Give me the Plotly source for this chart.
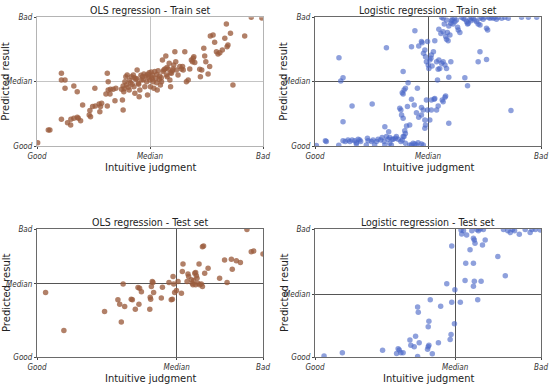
import plotly.graph_objects as go

# ---------------- data (0 = Good, 100 = Bad) ----------------
ols_train_x = [0.3, 5, 5.7, 10.8, 10.8, 12.4, 12.4, 16.3, 17.8, 10.8, 13.5, 14.9, 15, 16.3, 17.8, 18.3, 19.3,
               20.2, 23.1, 23.4, 23.7, 24.6, 25.8, 25.6, 27.5, 27.8, 28.1, 28.6, 30.5, 31.1, 31.1, 31.5, 31.5,
               32.3, 32.5, 33.7, 34.5, 34.9, 37.4, 38.1, 38.4, 38.9, 39.3, 39.9, 37.8, 38.1, 40.4, 40.8, 41.4,
               41.8, 42.6, 42.9, 43.3, 43.7, 44.3, 44.8, 45.2, 45.5, 46.2, 46.7, 47.3, 47.7, 48.2, 48.5, 48.9,
               49.2, 49.6, 49.9, 50.2, 50.7, 51.1, 51.4, 51.7, 52.1, 52.6, 52.9, 53.2, 53.6, 54.1, 54.3, 54.6,
               55.1, 55.5, 55.8, 56.1, 56.6, 57, 57.3, 57.6, 58, 58.5, 58.8, 59.1, 59.5, 59.9, 60.2, 60.5, 61,
               61.4, 61.7, 62.4, 63.2, 63.9, 64.4, 64.7, 65.4, 66.1, 66.9, 67.6, 68.3, 68.8, 69.1, 69.4, 69.8,
               72, 72.3, 72.9, 73.8, 74.2, 74.7, 75.7, 76.4, 76.7, 77.9, 78.6, 79.4, 80.1, 80.9, 82, 83.1, 83.8,
               84.1, 84.5, 85.6, 86.7, 91.9, 94.8, 99.5,
               38.6, 39.6, 40.9, 42.1, 44.0, 46.0, 47.0, 49.0, 50.5, 53.0, 55.0, 57.5, 59.0, 45.0, 51.0, 43.0]
ols_train_y = [2.6, 12.4, 12.4, 56.5, 51.3, 51.3, 44.8, 46.6, 42.2, 20.7, 18.1, 16.3, 20.7, 21.5, 22.3, 21.5, 19.7,
               31.9, 24.1, 27.5, 22.8, 30.6, 31.1, 44.8, 32.6, 26.7, 30.6, 33.2, 40.4, 31.1, 56.5, 50, 43.5,
               40.4, 44, 44, 35.2, 44.8, 44, 46.6, 42.2, 50, 53.9, 55.2, 35.8, 28, 45.6, 43.5, 49.2,
               53.9, 55.2, 46.1, 40.9, 51.8, 59.1, 48.7, 38.3, 43.5, 51.3, 53.9, 56, 46.1, 54.4, 50, 39.6,
               53.4, 57, 51.3, 46.1, 53.4, 55.2, 50, 44.8, 57.8, 52.6, 49.2, 43.5, 58.5, 51.8, 54.4, 47.4,
               50, 66.8, 57.8, 59.1, 59.8, 69.9, 55.2, 53.9, 59.8, 64.2, 51.3, 46.1, 56.5, 58.5, 59.8, 63, 73.3,
               65.5, 59.1, 55.2, 61.7, 59.8, 61.7, 59.1, 73.3, 50, 51.3, 59.8, 66.8, 65.5, 68.1, 69.4, 64.8,
               59.6, 53.9, 59.1, 75.9, 69.9, 65.5, 56, 61.7, 85.5, 86.3, 80.6, 73.3, 71.5, 72.5, 74.6, 83.7, 94.8,
               77.2, 78.4, 87.6, 47.4, 85.5, 100, 99.5,
               44.5, 47.5, 51.0, 48.0, 52.5, 55.0, 51.5, 55.5, 57.5, 55.5, 53.0, 61.0, 57.0, 48.0, 52.0, 53.0]

log_train_x = [4.6, 5.0, 10.5, 12.4, 13.4, 14.6, 15.4, 16.4, 17.6, 18.3, 19.1, 19.8, 20.2, 23.2, 23.5, 25.0, 25.7,
               27.2, 27.9, 29.1, 29.7, 30.6, 30.9, 31.6, 32.3, 33.1, 33.8, 34.6, 35.6, 36.8, 38.0, 38.6, 39.0,
               40.0, 41.9, 42.7, 43.4, 44.2, 44.9, 45.6, 47.1, 47.9, 18.3, 22.7, 26.4, 0.6,
               10.6, 11.4, 12.4, 12.4, 16.4, 25.3, 30.9, 32.6, 31.6, 39.0, 38.6, 39.0, 39.4, 40.0, 41.2, 42.7,
               44.2, 42.7, 45.3, 45.9, 47.1, 47.4, 48.0, 48.6, 48.9, 49.3, 49.8, 50.1, 50.4, 50.8, 51.3, 51.5,
               51.8, 52.4, 53.0, 53.8, 54.2, 54.5, 54.8, 55.2, 56.0, 56.7, 57.5, 58.2, 59.2, 60.1, 53.8, 54.5,
               56.3, 56.7, 57.5, 57.8, 59.2, 53.0, 52.7, 51.5, 50.8, 49.3, 48.9, 48.6, 47.9, 47.1, 45.9, 44.9,
               43.9, 41.9, 40.9, 40.0, 39.4, 39.0, 38.3, 38.0, 37.5, 39.7, 40.5, 36.0, 33.1, 34.1, 47.1, 48.6,
               49.8, 51.5,
               54.8, 55.7, 56.7, 57.2, 57.8, 58.2, 58.6, 58.9, 59.7, 60.1, 60.4, 60.7, 61.1, 61.6, 61.9, 62.6,
               63.1, 63.4, 64.1, 64.8, 65.6, 66.3, 67.1, 67.5, 67.8, 68.5, 69.0, 69.3, 70.0, 70.7, 71.5, 72.2,
               73.0, 73.7, 74.4, 75.2, 75.9, 76.4, 76.7, 77.4, 78.1, 78.9, 79.6, 80.3, 81.1, 82.6, 84.0, 85.5,
               91.4, 94.4, 98.1, 56.0, 56.7, 58.2, 59.2, 72.2, 73.0, 75.9, 66.3, 67.5, 73.0, 86.7]
log_train_y = [4.1, 3.4, 0.5, 4.1, 3.4, 4.7, 3.4, 4.7, 4.1, 2.6, 5.2, 4.7, 3.4, 6.0, 4.1, 3.4, 4.7,
               3.4, 5.2, 4.7, 6.7, 3.4, 0.8, 7.3, 5.2, 2.1, 0.8, 5.2, 6.0, 5.2, 3.4, 4.7, 7.3,
               2.1, 0.8, 0.8, 2.1, 1.6, 0.8, 2.6, 1.6, 0.8, 1.6, 0.8, 0.8, 0.3,
               68.6, 50.5, 53.1, 18.9, 31.1, 32.6, 15.0, 11.1, 76.4, 57.8, 41.4, 40.4, 43.5, 44.8, 49.2, 36.3,
               89.6, 77.2, 44.8, 77.7, 81.1, 80.3, 72.0, 74.6, 69.4, 65.5, 81.1, 62.9, 60.3, 66.8, 68.1, 70.7,
               62.2, 73.3, 81.8, 65.5, 51.3, 59.6, 66.8, 60.3, 64.2, 65.5, 62.9, 60.3, 53.4, 65.5, 28.0, 31.1,
               35.7, 34.4, 37.8, 38.9, 17.6, 37.0, 36.3, 28.0, 20.2, 35.7, 16.3, 13.7, 28.0, 30.0, 22.3, 25.9,
               31.9, 16.3, 30.6, 9.8, 7.3, 21.5, 24.1, 28.0, 29.3, 11.9, 15.5, 7.3, 6.7, 5.2, 24.1, 20.2,
               28.0, 35.7,
               90.7, 87.5, 88.8, 94.8, 85.0, 82.9, 88.1, 81.8, 86.2, 95.3, 97.4, 98.4, 94.8, 99.2, 96.6, 97.9,
               92.2, 90.1, 88.1, 100, 99.2, 98.4, 96.6, 94.8, 95.3, 98.4, 97.4, 100, 99.2, 97.9, 96.6, 94.8,
               99.2, 100, 98.4, 100, 91.4, 90.1, 100, 99.2, 100, 99.2, 100, 98.4, 100, 99.2, 100, 99.2,
               100, 100, 100, 100, 99.2, 97.9, 93.2, 65.5, 73.3, 67.3, 53.1, 46.9, 94.0, 27.5]

ols_test_x = [3.8, 11.9, 29.9, 37.3, 35.8, 36.6, 38.1, 38.8, 41.7, 42.2, 43.5, 44.7, 45.4, 45.1, 46.2, 49.9,
              50.1, 50.3, 50.6, 51.0, 51.3, 51.6, 55.0, 55.5, 58.4, 59.4, 59.9, 60.2, 60.5, 60.9, 61.7, 62.4,
              63.9, 64.3, 64.6, 66.4, 66.8, 67.1, 68.3, 68.7, 69.0, 69.3, 69.8, 70.2, 70.2, 70.5, 70.8, 71.2,
              71.7, 72.0, 72.7, 73.2, 73.2, 73.7, 74.2, 75.7, 80.8, 83.0, 84.1, 86.0, 86.4, 88.2, 90.0, 92.9,
              94.8, 95.9, 100]
ols_test_y = [50.4, 20.8, 35.6, 27.3, 44.7, 41.3, 57.1, 39.5, 45.2, 44.7, 37.4, 54.3, 53.8, 41.3, 50.9, 37.4,
              46.7, 45.2, 55.1, 59.0, 58.2, 50.4, 46.0, 54.5, 58.2, 44.7, 45.2, 62.8, 57.1, 50.4, 51.9, 59.0,
              49.9, 66.7, 72.7, 59.0, 64.9, 62.8, 60.3, 57.7, 56.4, 59.7, 65.5, 66.0, 56.4, 63.4, 61.6, 57.7,
              72.7, 56.4, 57.1, 55.1, 86.2, 86.7, 65.5, 69.4, 61.6, 75.8, 58.2, 76.4, 68.6, 75.1, 73.8, 99.7,
              82.3, 82.9, 80.5]

log_test_x = [4.0, 12.1, 29.9, 36.1, 36.8, 37.3, 38.0, 39.0, 42.0, 42.4, 43.9, 44.5, 45.4, 46.1, 45.4, 45.7,
              49.8, 50.1, 50.4, 50.1, 50.4, 51.0, 51.9, 54.6, 55.6, 58.3, 59.8, 60.2, 60.5, 60.5, 61.7, 61.9,
              64.3, 64.6, 64.9, 65.7, 66.4, 66.7, 67.1, 68.6, 69.4, 70.1, 70.1, 70.1, 70.5, 70.5, 70.8, 71.6,
              72.0, 72.3, 73.1, 73.5, 74.1, 74.5, 75.3, 80.9, 83.4, 84.2, 85.3, 86.4, 87.4, 88.3, 90.4, 93.0,
              95.2, 96.0, 97.5, 99.7]
log_test_y = [0.8, 3.4, 5.2, 2.8, 6.5, 5.4, 3.4, 3.4, 13.2, 9.1, 8.0, 16.3, 0.3, 11.1, 39.1, 35.0,
              6.0, 8.0, 9.1, 23.6, 28.0, 44.8, 2.6, 11.1, 39.6, 57.2, 13.7, 17.6, 86.8, 42.7, 25.9, 52.6,
              42.7, 99.2, 96.1, 98.7, 59.8, 73.3, 95.3, 83.7, 98.7, 73.3, 55.2, 92.7, 59.1, 91.4, 88.8, 99.7,
              44.8, 98.7, 100, 59.1, 87.5, 99.7, 91.4, 78.5, 99.7, 63.5, 98.7, 97.2, 99.7, 98.7, 95.9, 99.7,
              97.2, 99.7, 99.7, 99.2]

tick_text = ["Good", "Median", "Bad"]
# position of the "Median" tick on each panel (x, y)
median_ols_train = (50, 50)
median_log_train = (50, 50)
median_ols_test = (61.8, 57.1)
median_log_test = (62.0, 48.7)

titles = ["OLS regression - Train set", "Logistic regression - Train set",
          "OLS regression - Test set", "Logistic regression - Test set"]
x_label = "Intuitive judgment"
y_label = "Predicted result"

# ---------------- figure ----------------
W, H = 550, 386
NARROW = "Liberation Sans Narrow, DejaVu Sans Condensed, Arial Narrow, sans-serif"
RED = "rgba(155,92,62,0.78)"
BLUE = "rgba(72,102,198,0.62)"

panels = [
    dict(x=ols_train_x, y=ols_train_y, med=median_ols_train, col=RED,
         dom_x=(37, 263), dom_y=(17.3, 146), frame="#b4b4b4", grid="#c4c4c4"),
    dict(x=log_train_x, y=log_train_y, med=median_log_train, col=BLUE,
         dom_x=(315, 541), dom_y=(17.3, 146), frame="#6a6a6a", grid="#555555"),
    dict(x=ols_test_x, y=ols_test_y, med=median_ols_test, col=RED,
         dom_x=(37, 263), dom_y=(229, 357), frame="#6a6a6a", grid="#555555"),
    dict(x=log_test_x, y=log_test_y, med=median_log_test, col=BLUE,
         dom_x=(315, 541), dom_y=(229, 357), frame="#6a6a6a", grid="#555555"),
]

fig = go.Figure()
layout = dict(width=W, height=H, margin=dict(l=0, r=0, t=0, b=0, autoexpand=False),
              paper_bgcolor="white", plot_bgcolor="white", showlegend=False,
              font=dict(family="DejaVu Sans", color="#222"))
annotations = []

for i, p in enumerate(panels, start=1):
    sfx = "" if i == 1 else str(i)
    fig.add_trace(go.Scatter(x=p["x"], y=p["y"], mode="markers",
                             marker=dict(size=5.5, color=p["col"], line=dict(width=0)),
                             xaxis="x" + sfx, yaxis="y" + sfx, hoverinfo="skip"))
    x0, x1 = p["dom_x"]
    yt, yb = p["dom_y"]
    common = dict(range=[0, 100], showline=True, mirror=True, linecolor=p["frame"], linewidth=1.2,
                  showgrid=True, gridcolor=p["grid"], gridwidth=1, zeroline=False, automargin=False,
                  ticks="outside", ticklen=2, tickcolor="#444", tickwidth=1,
                  ticktext=tick_text,
                  tickfont=dict(family=NARROW, size=8, color="#333", style="italic"))
    layout["xaxis" + sfx] = dict(common, domain=[x0 / W, x1 / W], anchor="y" + sfx,
                                 tickvals=[0, p["med"][0], 100])
    layout["yaxis" + sfx] = dict(common, domain=[1 - yb / H, 1 - yt / H], anchor="x" + sfx,
                                 tickvals=[0, p["med"][1], 100])
    cx = (x0 + x1) / 2 / W
    title_y = 10.5 if yt < 100 else 221.5
    xlab_y = 167 if yt < 100 else 378
    annotations.append(dict(text=titles[i - 1], x=cx, y=1 - title_y / H, xref="paper", yref="paper",
                            showarrow=False, xanchor="center", yanchor="middle",
                            font=dict(family=NARROW, size=10.5, color="#222")))
    annotations.append(dict(text=x_label, x=cx, y=1 - xlab_y / H, xref="paper", yref="paper",
                            showarrow=False, xanchor="center", yanchor="middle",
                            font=dict(family=NARROW, size=11, color="#222")))
    annotations.append(dict(text=y_label, x=(x0 - 31) / W, y=1 - (yt + yb) / 2 / H,
                            xref="paper", yref="paper", textangle=-90,
                            showarrow=False, xanchor="center", yanchor="middle",
                            font=dict(family="DejaVu Sans", size=10, color="#222")))

layout["annotations"] = annotations
fig.update_layout(**layout)
fig.write_html("out.html", config={"displayModeBar": False},
               post_script="document.body.style.margin='0';document.body.style.overflow='hidden';")
